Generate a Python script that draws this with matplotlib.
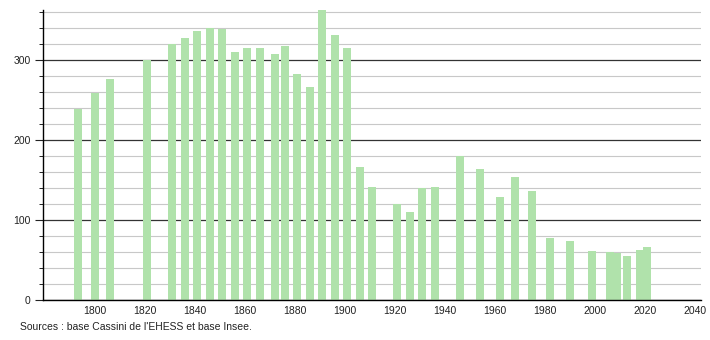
"""

Population chart (recensements)

"""

from matplotlib import pyplot as plt
from matplotlib.ticker import MultipleLocator
import numpy as np

years = [1793, 1800, 1806, 1821, 1831, 1836, 1841, 1846, 1851, 1856,
         1861, 1866, 1872, 1876, 1881, 1886, 1891, 1896, 1901, 1906,
         1911, 1921, 1926, 1931, 1936, 1946, 1954, 1962, 1968, 1975,
         1982, 1990, 1999, 2006, 2009, 2013, 2018, 2021]
population = [239, 259, 276, 300, 320, 327, 336, 340, 338, 310,
              315, 315, 307, 317, 282, 266, 362, 331, 315, 166,
              141, 120, 110, 140, 141, 180, 164, 129, 153, 136,
              78, 74, 61, 60, 59, 55, 62, 66]
xticks = [1800, 1820, 1840, 1860, 1880, 1900, 1920, 1940, 1960, 1980,
          2000, 2020, 2040]
source = "Sources : base Cassini de l'EHESS et base Insee."

plt.rcParams['font.family'] = ['Liberation Sans', 'DejaVu Sans']

fig = plt.figure(figsize=(7.1, 3.4), dpi=100)
ax = fig.add_axes([0.0606, 0.1176, 0.9264, 0.853])

ax.bar(years, population, width=3.2, color='#b0e2ab', zorder=2)

ax.set_xlim(1779.2, 2042.4)
ax.set_ylim(0, 362)
ax.set_xticks(xticks)
ax.yaxis.set_major_locator(MultipleLocator(100))
ax.yaxis.set_minor_locator(MultipleLocator(20))

ax.grid(axis='y', which='minor', color='#c8c8c8', linewidth=0.8, zorder=0)
ax.grid(axis='y', which='major', color='#333333', linewidth=0.9, zorder=1)

for side in ['top', 'right']:
    ax.spines[side].set_visible(False)
ax.spines['left'].set_linewidth(1.0)
ax.spines['bottom'].set_linewidth(1.0)

ax.tick_params(axis='x', length=0, labelsize=7.5, pad=4, colors='#222222')
ax.tick_params(axis='y', which='major', length=6, labelsize=7.5, pad=3,
               colors='#222222')
ax.tick_params(axis='y', which='minor', length=3)

fig.text(20 / 710, 1 - 327 / 340, source, fontsize=7.5, va='center',
         color='#222222')

fig.savefig('out.png', dpi=100)
